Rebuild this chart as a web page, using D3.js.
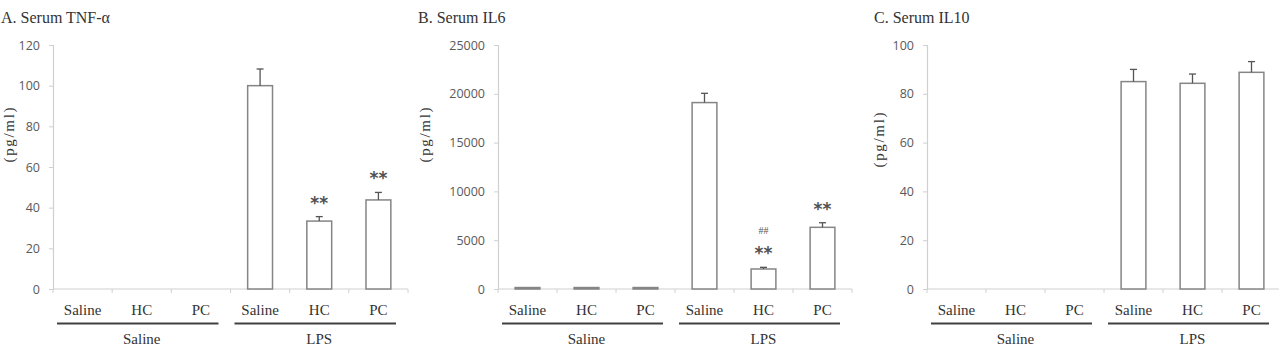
<!DOCTYPE html>
<html>
<head>
    <meta charset="utf-8">
    <style>
        body { margin: 0; background: #fff; }
        svg { display: block; }
        .tick-label { font: 12.5px "Open Sans", sans-serif; fill: #595959; }
        .serif { font-family: "Liberation Serif", "Times New Roman", serif; fill: #333; }
    </style>
</head>
<body>
    <div id="chart"></div>
    <script src="https://cdnjs.cloudflare.com/ajax/libs/d3/7.8.5/d3.min.js"></script>
    <script>
        // categories
        const categories = ["Saline", "HC", "PC", "Saline", "HC", "PC"];
        const groups = ["Saline", "LPS"];

        // A. TNF-a
        const tnfMean = [0, 0, 0, 100, 33.4, 43.8];
        const tnfErr = [0, 0, 0, 8.2, 2.2, 3.7];
        const tnfStars = ["", "", "", "", "**", "**"];
        const tnfHash = ["", "", "", "", "", ""];
        const tnfTicks = [0, 20, 40, 60, 80, 100, 120];

        // B. IL6
        const il6Mean = [150, 150, 150, 19100, 2050, 6320];
        const il6Err = [0, 0, 0, 950, 170, 470];
        const il6Stars = ["", "", "", "", "**", "**"];
        const il6Hash = ["", "", "", "", "##", ""];
        const il6Ticks = [0, 5000, 10000, 15000, 20000, 25000];

        // C. IL10
        const il10Mean = [0, 0, 0, 85, 84.3, 88.8];
        const il10Err = [0, 0, 0, 5, 3.8, 4.4];
        const il10Stars = ["", "", "", "", "", ""];
        const il10Hash = ["", "", "", "", "", ""];
        const il10Ticks = [0, 20, 40, 60, 80, 100];

        const panels = [
            { title: "A. Serum TNF-\u03b1", mean: tnfMean, err: tnfErr, stars: tnfStars, hash: tnfHash, ticks: tnfTicks,
              x0: 53, x1: 408, titleX: 1, labelX: 9, labelY: 135 },
            { title: "B. Serum IL6", mean: il6Mean, err: il6Err, stars: il6Stars, hash: il6Hash, ticks: il6Ticks,
              x0: 498, x1: 852, titleX: 418, labelX: 425, labelY: 135 },
            { title: "C. Serum IL10", mean: il10Mean, err: il10Err, stars: il10Stars, hash: il10Hash, ticks: il10Ticks,
              x0: 927, x1: 1281, titleX: 874, labelX: 879, labelY: 140 }
        ];

        const width = 1279, height = 351;
        const yTop = 45, yBottom = 289;

        const svg = d3.select("#chart").append("svg")
            .attr("width", width)
            .attr("height", height);

        panels.forEach(p => {
            const g = svg.append("g");
            const idx = d3.range(categories.length);

            const x = d3.scaleBand().domain(idx).range([p.x0, p.x1]).padding(0);
            const y = d3.scaleLinear().domain([0, d3.max(p.ticks)]).range([yBottom, yTop]);
            const bw = x.bandwidth() * 0.42;

            // title
            g.append("text")
                .attr("class", "serif")
                .attr("x", p.titleX)
                .attr("y", 23)
                .style("font-size", "16px")
                .text(p.title);

            // y label
            g.append("text")
                .attr("class", "serif")
                .attr("transform", `translate(${p.labelX},${p.labelY}) rotate(-90)`)
                .attr("text-anchor", "middle")
                .attr("dy", "0.35em")
                .style("font-size", "15px")
                .attr("textLength", 55)
                .text("(pg/ml)");

            // y axis
            const yAxis = g.append("g")
                .attr("transform", `translate(${p.x0},0)`)
                .call(d3.axisLeft(y).tickValues(p.ticks).tickFormat(d3.format("d")).tickSize(4).tickPadding(9));
            yAxis.select(".domain").attr("stroke", "#d0d0d0").attr("stroke-width", 1.2);
            yAxis.selectAll(".tick line").attr("stroke", "#d0d0d0");
            yAxis.selectAll(".tick text").attr("class", "tick-label").attr("font-family", null).attr("font-size", null);

            // x axis line + boundary ticks
            g.append("line")
                .attr("x1", p.x0).attr("x2", p.x1)
                .attr("y1", yBottom).attr("y2", yBottom)
                .attr("stroke", "#d0d0d0").attr("stroke-width", 1.2);
            g.selectAll(".xtick")
                .data(d3.range(categories.length + 1))
                .join("line")
                .attr("x1", i => p.x0 + i * x.step())
                .attr("x2", i => p.x0 + i * x.step())
                .attr("y1", yBottom).attr("y2", yBottom + 4)
                .attr("stroke", "#d0d0d0");

            // bars
            g.selectAll(".bar")
                .data(idx)
                .join("rect")
                .attr("x", i => x(i) + (x.bandwidth() - bw) / 2)
                .attr("y", i => y(p.mean[i]))
                .attr("width", bw)
                .attr("height", i => yBottom - y(p.mean[i]))
                .attr("fill", "#fff")
                .attr("stroke", "#858585")
                .attr("stroke-width", 1.5);

            // error bars
            const withErr = idx.filter(i => p.err[i] > 0);
            const cx = i => x(i) + x.bandwidth() / 2;
            g.selectAll(".errv")
                .data(withErr)
                .join("line")
                .attr("x1", cx).attr("x2", cx)
                .attr("y1", i => y(p.mean[i]))
                .attr("y2", i => y(p.mean[i] + p.err[i]))
                .attr("stroke", "#555").attr("stroke-width", 1.3);
            g.selectAll(".errc")
                .data(withErr)
                .join("line")
                .attr("x1", i => cx(i) - 3.5).attr("x2", i => cx(i) + 3.5)
                .attr("y1", i => y(p.mean[i] + p.err[i]))
                .attr("y2", i => y(p.mean[i] + p.err[i]))
                .attr("stroke", "#555").attr("stroke-width", 1.3);

            // significance marks
            g.selectAll(".star")
                .data(idx.filter(i => p.stars[i]))
                .join("text")
                .attr("x", cx)
                .attr("y", i => y(p.mean[i] + p.err[i]) - 8)
                .attr("text-anchor", "middle")
                .style("font", "bold 17px 'DejaVu Sans', sans-serif")
                .attr("fill", "#505050")
                .text(i => p.stars[i]);
            g.selectAll(".hash")
                .data(idx.filter(i => p.hash[i]))
                .join("text")
                .attr("x", cx)
                .attr("y", i => y(p.mean[i] + p.err[i]) - 33)
                .attr("text-anchor", "middle")
                .style("font", "10px 'Liberation Serif', serif")
                .attr("fill", "#555")
                .text(i => p.hash[i]);

            // category labels
            g.selectAll(".cat")
                .data(idx)
                .join("text")
                .attr("class", "serif")
                .attr("x", cx)
                .attr("y", 315)
                .attr("text-anchor", "middle")
                .style("font-size", "15px")
                .text(i => categories[i]);

            // group lines and labels
            groups.forEach((name, gi) => {
                const start = x(gi * 3);
                const end = x(gi * 3 + 2) + x.bandwidth();
                g.append("line")
                    .attr("x1", start + 4).attr("x2", end - 12)
                    .attr("y1", 323.5).attr("y2", 323.5)
                    .attr("stroke", "#404040").attr("stroke-width", 2);
                g.append("text")
                    .attr("class", "serif")
                    .attr("x", (start + end) / 2)
                    .attr("y", 344)
                    .attr("text-anchor", "middle")
                    .style("font-size", "15px")
                    .text(name);
            });
        });
    </script>
</body>
</html>
